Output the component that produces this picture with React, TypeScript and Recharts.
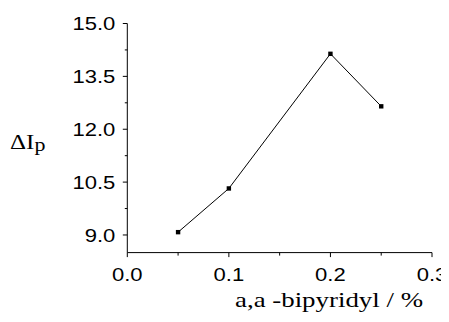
import React from "react";
import { LineChart, Line, XAxis, YAxis, Label } from "recharts";

const concentrations = [0.05, 0.1, 0.2, 0.25];
const deltaIp = [9.08, 10.32, 14.14, 12.65];
const xTicks = [0, 0.05, 0.1, 0.15, 0.2, 0.25, 0.3];
const yTicks = [9, 9.75, 10.5, 11.25, 12, 12.75, 13.5, 14.25, 15];
const xTitle = "a,a -bipyridyl / %";
const yTitleMain = "ΔI";
const yTitleSub = "p";

const data = concentrations.map((c, i) => ({ x: c, y: deltaIp[i] }));

const SX = 1.26;
const TICK_FONT = "Liberation Sans, Arial, sans-serif";
const TITLE_FONT = "Liberation Serif, Times New Roman, serif";

const isMajorX = (v: number) => Math.abs(v * 10 - Math.round(v * 10)) < 1e-6;
const isMajorY = (v: number) => Math.abs(v / 1.5 - Math.round(v / 1.5)) < 1e-6;

const XTick = (props: any) => {
  const { x, y, payload } = props;
  const major = isMajorX(payload.value);
  return (
    <g>
      <line x1={x} x2={x} y1={y} y2={y + (major ? 4.5 : 3)} stroke="#000" strokeWidth={1} />
      {major && (
        <text
          x={0}
          y={0}
          transform={`translate(${x},${y + 28}) scale(${SX},1)`}
          textAnchor="middle"
          style={{ fontFamily: TICK_FONT, fontSize: 17.5 }}
          fill="#000"
        >
          {payload.value.toFixed(1)}
        </text>
      )}
    </g>
  );
};

const YTick = (props: any) => {
  const { x, y, payload } = props;
  const major = isMajorY(payload.value);
  return (
    <g>
      <line x1={x} x2={x - (major ? 4.5 : 2.5)} y1={y} y2={y} stroke="#000" strokeWidth={1} />
      {major && (
        <text
          x={0}
          y={0}
          transform={`translate(${x - 12},${y + 6.8}) scale(${SX},1)`}
          textAnchor="end"
          style={{ fontFamily: TICK_FONT, fontSize: 17.5 }}
          fill="#000"
        >
          {payload.value.toFixed(1)}
        </text>
      )}
    </g>
  );
};

const Square = (props: any) => {
  const { cx, cy } = props;
  if (cx == null || cy == null) return null;
  return <rect x={cx - 2.2} y={cy - 2.2} width={4.4} height={4.4} fill="#000" />;
};

const XTitle = () => (
  <text
    x={0}
    y={0}
    transform="translate(321,298.5) scale(1.28,1)"
    textAnchor="middle"
    style={{ fontFamily: TITLE_FONT, fontSize: 21 }}
    fill="#000"
  >
    {xTitle}
  </text>
);

const YTitle = () => (
  <text
    x={0}
    y={0}
    transform="translate(2,141.3) scale(1.22,1)"
    textAnchor="start"
    style={{ fontFamily: TITLE_FONT, fontSize: 20.5 }}
    fill="#000"
  >
    <tspan>{yTitleMain}</tspan>
    <tspan dy={2} style={{ fontSize: 18 }}>{yTitleSub}</tspan>
  </text>
);

export default function App() {
  return (
    <LineChart
      width={441}
      height={314}
      data={data}
      margin={{ top: 15.5, right: 17, left: 0, bottom: 0 }}
      style={{ background: "#fff" }}
    >
      <XAxis
        dataKey="x"
        type="number"
        domain={[0, 0.3]}
        ticks={xTicks}
        interval={0}
        height={69.4}
        tickSize={0}
        tickMargin={0}
        tickLine={false}
        tick={<XTick />}
        axisLine={{ stroke: "#000", strokeWidth: 1 }}
        allowDataOverflow
      >
        <Label content={<XTitle />} />
      </XAxis>
      <YAxis
        dataKey="y"
        type="number"
        domain={[8.5, 15]}
        ticks={yTicks}
        interval={0}
        width={119.3}
        tickSize={0}
        tickMargin={0}
        tickLine={false}
        tick={<YTick />}
        axisLine={{ stroke: "#000", strokeWidth: 1 }}
        allowDataOverflow
      >
        <Label content={<YTitle />} />
      </YAxis>
      <Line
        type="linear"
        dataKey="y"
        stroke="#000"
        strokeWidth={1}
        dot={<Square />}
        activeDot={false}
        isAnimationActive={false}
      />
    </LineChart>
  );
}
